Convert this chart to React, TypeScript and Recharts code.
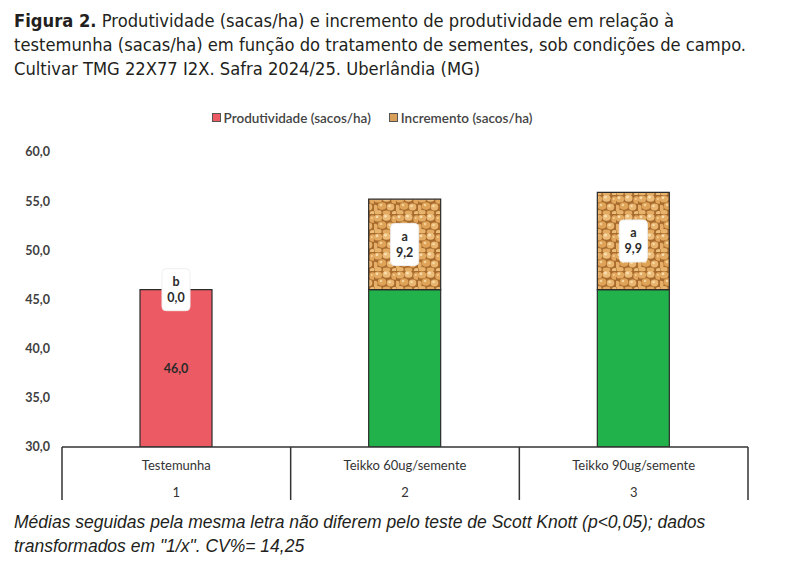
import React from "react";
import { BarChart, Bar, XAxis, YAxis, Legend, LabelList, Cell } from "recharts";

const categories = ["Testemunha", "Teikko 60ug/semente", "Teikko 90ug/semente"];
const categoryNumbers = ["1", "2", "3"];
const produtividade = [46.0, 46.0, 46.0];
const incremento = [0.0, 9.2, 9.9];
const letters = ["b", "a", "a"];
const yTicks = [30, 35, 40, 45, 50, 55, 60];

const RED = "#ec5b64";
const GREEN = "#22b24b";
const CHART_W = 787;
const CHART_H = 407;
const XAXIS_H = 60;
const PLOT_BOTTOM = CHART_H - XAXIS_H;
const MARGIN_R = 39;
const YAXIS_W = 62;
const BAND = (CHART_W - YAXIS_W - MARGIN_R) / categories.length;

const data = categories.map((name, i) => ({
  name,
  num: categoryNumbers[i],
  produtividade: produtividade[i],
  incremento: incremento[i],
  letter: letters[i],
}));

const fmt = (v: number) => v.toFixed(1).replace(".", ",");
const chartFont = "Lato, 'Open Sans', sans-serif";

function CategoryTick(props: any) {
  const { x, y, payload, index } = props;
  const item = data[index];
  return (
    <g>
      <line x1={x - BAND / 2} y1={y} x2={x - BAND / 2} y2={y + 53} stroke="#333" strokeWidth={1.5} />
      {index === categories.length - 1 && (
        <line x1={x + BAND / 2} y1={y} x2={x + BAND / 2} y2={y + 53} stroke="#333" strokeWidth={1.5} />
      )}
      <text x={x} y={y + 23} textAnchor="middle" fontSize={13} fill="#333" fontFamily={chartFont}>
        {payload.value}
      </text>
      <text x={x} y={y + 50} textAnchor="middle" fontSize={13} fill="#333" fontFamily={chartFont}>
        {item ? item.num : ""}
      </text>
    </g>
  );
}

function LetterBox({ cx, cy, i }: { cx: number; cy: number; i: number }) {
  return (
    <g>
      <rect x={cx - 14} y={cy - 21} width={28} height={42} rx={4} fill="#fff" stroke="#f0f0f0" />
      <text x={cx} y={cy - 8} textAnchor="middle" dominantBaseline="central" fontSize={12.5}
        fontWeight="bold" fill="#2a2a2a" fontFamily={chartFont}>
        {letters[i]}
      </text>
      <text x={cx} y={cy + 8} textAnchor="middle" dominantBaseline="central" fontSize={12.5}
        fontWeight="bold" fill="#2a2a2a" fontFamily={chartFont}>
        {fmt(incremento[i])}
      </text>
    </g>
  );
}

// productivity label (red bar only) + letter box when increment is zero
function ProdLabel(props: any) {
  const { x, y, width, height, value } = props;
  const i = categories.indexOf(value);
  if (i < 0) return null;
  const cx = x + width / 2;
  const bottom = Math.min(y + height, PLOT_BOTTOM);
  return (
    <g>
      {i === 0 && (
        <text x={cx} y={(y + bottom) / 2} textAnchor="middle" dominantBaseline="central"
          fontSize={12.5} fontWeight="bold" fill="#2a2a2a" fontFamily={chartFont}>
          {fmt(produtividade[i])}
        </text>
      )}
      {incremento[i] === 0 && <LetterBox cx={cx} cy={y} i={i} />}
    </g>
  );
}

function IncLabel(props: any) {
  const { x, y, width, height, value } = props;
  const i = categories.indexOf(value);
  if (i < 0 || incremento[i] === 0) return null;
  return <LetterBox cx={x + width / 2} cy={y + height / 2} i={i} />;
}

function LegendContent() {
  const item = (color: string, label: string, fill?: string) => (
    <span style={{ display: "inline-flex", alignItems: "center", marginRight: 18 }}>
      <svg width={10} height={10} style={{ marginRight: 2 }}>
        <rect x={0.5} y={0.5} width={8} height={8} fill={fill || color} stroke="#555" />
      </svg>
      <span>{label}</span>
    </span>
  );
  return (
    <div style={{ height: 44, textAlign: "center", fontFamily: chartFont, fontSize: 13.5, fontWeight: 600, color: "#444", lineHeight: "20px", paddingLeft: 14 }}>
      {item(RED, "Produtividade (sacos/ha)")}
      {item("#d9a05a", "Incremento (sacos/ha)")}
    </div>
  );
}

export default function App() {
  return (
    <div style={{ position: "absolute", left: 0, top: 0, width: 787, height: 568, background: "#fff" }}>
      <div style={{ position: "absolute", left: 14, top: 9, fontFamily: "'Liberation Sans Narrow', 'DejaVu Sans Condensed', sans-serif", fontSize: 18.2, lineHeight: "24px", color: "#231f20", width: 770 }}>
        <b>Figura 2.</b> Produtividade (sacas/ha) e incremento de produtividade em relação à<br />
        testemunha (sacas/ha) em função do tratamento de sementes, sob condições de campo.<br />
        Cultivar TMG 22X77 I2X. Safra 2024/25. Uberlândia (MG)
      </div>
      <div style={{ position: "absolute", left: 0, top: 100 }}>
        <BarChart width={CHART_W} height={CHART_H} data={data} margin={{ top: 8, right: MARGIN_R, bottom: 0, left: 0 }} barSize={72}>
          <defs>
            <pattern id="soy" width="22" height="19" patternUnits="userSpaceOnUse">
              <rect width="22" height="19" fill="#a86b2e" />
              <ellipse cx="4" cy="4" rx="4.2" ry="3.6" fill="#e3aa62" />
              <ellipse cx="12.5" cy="3.2" rx="4" ry="3.6" fill="#ecbb78" />
              <ellipse cx="20.5" cy="5" rx="3.2" ry="3.8" fill="#e2a65d" />
              <ellipse cx="8" cy="11" rx="4.3" ry="3.7" fill="#dfa358" />
              <ellipse cx="16.5" cy="12" rx="3.8" ry="3.4" fill="#e9b46d" />
              <ellipse cx="1" cy="13" rx="2.6" ry="3.2" fill="#e6ae66" />
              <ellipse cx="4" cy="17.5" rx="3.6" ry="2.4" fill="#e8b36b" />
              <ellipse cx="12.5" cy="17.8" rx="3.8" ry="2.2" fill="#e3aa62" />
              <ellipse cx="20.5" cy="18" rx="2.6" ry="2" fill="#edbd7a" />
              <circle cx="3" cy="2.8" r="1.4" fill="#f7dcab" />
              <circle cx="11.5" cy="2.2" r="1.4" fill="#f8e0b2" />
              <circle cx="7" cy="10" r="1.3" fill="#f3d29a" />
              <circle cx="15.6" cy="11" r="1.2" fill="#f7dcab" />
              <circle cx="19.8" cy="4" r="1" fill="#f3d29a" />
            </pattern>
          </defs>
          <Legend verticalAlign="top" content={<LegendContent />} />
          <XAxis dataKey="name" tickLine={false} tickSize={0} tickMargin={0} height={XAXIS_H}
            axisLine={{ stroke: "#333", strokeWidth: 1.5 }} tick={<CategoryTick />} interval={0} />
          <YAxis domain={[30, 60]} ticks={yTicks} allowDataOverflow width={YAXIS_W}
            axisLine={false} tickLine={false} tickFormatter={fmt} tickMargin={6}
            tick={{ fill: "#404040", fontSize: 12.5, fontWeight: "bold", fontFamily: chartFont }} />
          <Bar dataKey="produtividade" stackId="a" stroke="#2b2b2b" strokeWidth={1.2} isAnimationActive={false}>
            {data.map((d, i) => (
              <Cell key={d.name} fill={i === 0 ? RED : GREEN} />
            ))}
            <LabelList dataKey="name" content={<ProdLabel />} />
          </Bar>
          <Bar dataKey="incremento" stackId="a" fill="url(#soy)" stroke="#2b2b2b" strokeWidth={1.2} isAnimationActive={false}>
            <LabelList dataKey="name" content={<IncLabel />} />
          </Bar>
        </BarChart>
      </div>
      <div style={{ position: "absolute", left: 14, top: 510, fontFamily: "'Liberation Sans', Arial, sans-serif", fontStyle: "italic", fontSize: 17.5, lineHeight: "24px", color: "#231f20", width: 770 }}>
        Médias seguidas pela mesma letra não diferem pelo teste de Scott Knott (p&lt;0,05); dados<br />
        transformados em "1/x". CV%= 14,25
      </div>
    </div>
  );
}
